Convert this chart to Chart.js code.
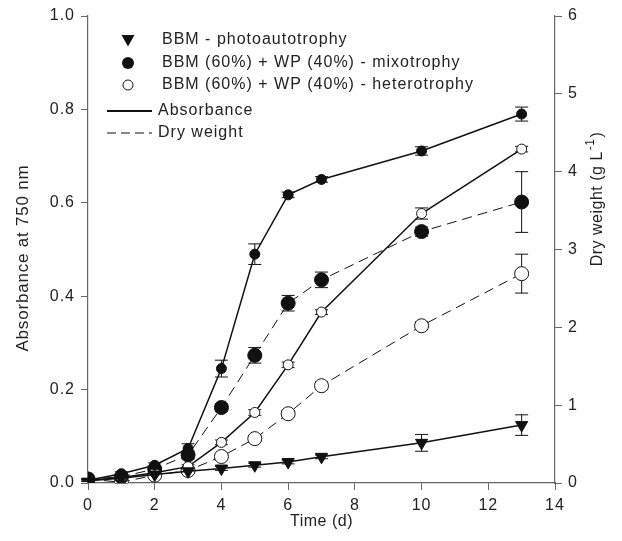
<!DOCTYPE html>
<html>
<head>
<meta charset="utf-8">
<script src="https://cdn.jsdelivr.net/npm/chart.js@4.4.1/dist/chart.umd.min.js"></script>
<style>
  html, body { margin: 0; padding: 0; background: #fff; }
  canvas { display: block; }
</style>
</head>
<body>
<canvas id="chart" width="622" height="541"></canvas>
<script>
// time points (d)
const days = [0, 1, 2, 3, 4, 5, 6, 7, 10, 13];

// absorbance at 750 nm
const photoAbs = [0.005, 0.010, 0.018, 0.025, 0.031, 0.038, 0.045, 0.056, 0.086, 0.124];
const photoAbsErr = [0.002, 0.002, 0.003, 0.003, 0.004, 0.004, 0.004, 0.004, 0.018, 0.022];
const mixoAbs = [0.006, 0.020, 0.038, 0.074, 0.245, 0.490, 0.617, 0.650, 0.711, 0.790];
const mixoAbsErr = [0.002, 0.004, 0.005, 0.010, 0.018, 0.022, 0.006, 0.006, 0.009, 0.015];
const heteroAbs = [0.006, 0.012, 0.022, 0.035, 0.087, 0.151, 0.253, 0.366, 0.577, 0.715];
const heteroAbsErr = [0.002, 0.002, 0.003, 0.004, 0.005, 0.006, 0.006, 0.005, 0.012, 0.006];

// dry weight (g/L)
const mixoDW = [0.05, 0.08, 0.18, 0.36, 0.97, 1.64, 2.31, 2.61, 3.23, 3.61];
const mixoDWErr = [0.01, 0.02, 0.03, 0.05, 0.05, 0.10, 0.10, 0.10, 0.06, 0.39];
const heteroDW = [0.05, 0.01, 0.10, 0.16, 0.34, 0.57, 0.89, 1.25, 2.02, 2.69];
const heteroDWErr = [0.01, 0.01, 0.02, 0.03, 0.03, 0.04, 0.04, 0.05, 0.05, 0.25];

const seriesNames = [
  "BBM - photoautotrophy",
  "BBM (60%) + WP (40%) - mixotrophy",
  "BBM (60%) + WP (40%) - heterotrophy"
];

const FONT = "'Liberation Sans', Arial, sans-serif";
const INK = "#222";
const AXIS = "#666";

const pts = (ys) => days.map((d, i) => ({ x: d, y: ys[i] }));

function series(label, ys, errs, axis, opts) {
  return Object.assign({
    label: label,
    data: pts(ys),
    errors: errs,
    yAxisID: axis,
    borderColor: "#111",
    pointBorderColor: "#111",
    pointBorderWidth: 1,
    tension: 0,
    fill: false
  }, opts);
}

// wider letter spacing, like the original typesetting
const spacing = {
  id: "spacing",
  beforeDraw(chart) { chart.ctx.letterSpacing = "1px"; }
};

const errorBars = {
  id: "errorBars",
  beforeDatasetsDraw(chart) {
    const ctx = chart.ctx;
    ctx.save();
    ctx.strokeStyle = "#111";
    ctx.lineWidth = 1;
    chart.data.datasets.forEach((ds, i) => {
      const meta = chart.getDatasetMeta(i);
      const scale = chart.scales[ds.yAxisID];
      meta.data.forEach((p, j) => {
        const v = ds.data[j].y, e = ds.errors[j];
        const top = scale.getPixelForValue(v + e);
        const bot = scale.getPixelForValue(v - e);
        ctx.beginPath();
        ctx.moveTo(p.x, top); ctx.lineTo(p.x, bot);
        ctx.moveTo(p.x - 6.5, top); ctx.lineTo(p.x + 6.5, top);
        ctx.moveTo(p.x - 6.5, bot); ctx.lineTo(p.x + 6.5, bot);
        ctx.stroke();
      });
    });
    ctx.restore();
  }
};

const decorations = {
  id: "decorations",
  afterDraw(chart) {
    const ctx = chart.ctx;
    const area = chart.chartArea;
    ctx.save();
    ctx.fillStyle = INK;
    ctx.strokeStyle = "#111";

    // legend
    ctx.letterSpacing = "1px";
    ctx.font = "16px " + FONT;
    ctx.textBaseline = "middle";
    ctx.textAlign = "left";
    const lx = 128, tx = 162;
    const rows = [40, 63, 85];
    ctx.beginPath();
    ctx.moveTo(lx - 6.5, rows[0] - 5);
    ctx.lineTo(lx + 6.5, rows[0] - 5);
    ctx.lineTo(lx, rows[0] + 6.5);
    ctx.closePath();
    ctx.fillStyle = "#111";
    ctx.fill();
    ctx.beginPath();
    ctx.arc(lx, rows[1], 6, 0, Math.PI * 2);
    ctx.fill();
    ctx.beginPath();
    ctx.arc(lx, rows[2], 5, 0, Math.PI * 2);
    ctx.lineWidth = 1;
    ctx.stroke();
    ctx.fillStyle = INK;
    seriesNames.forEach((n, i) => ctx.fillText(n, tx, rows[i]));

    ctx.lineWidth = 2;
    ctx.beginPath();
    ctx.moveTo(107, 111); ctx.lineTo(152, 111);
    ctx.stroke();
    ctx.lineWidth = 1;
    ctx.setLineDash([9, 5]);
    ctx.beginPath();
    ctx.moveTo(107, 133); ctx.lineTo(152, 133);
    ctx.stroke();
    ctx.setLineDash([]);
    ctx.fillText("Absorbance", 158, 111);
    ctx.fillText("Dry weight", 158, 133);

    // axis titles
    ctx.letterSpacing = "0.5px";
    ctx.font = "16px " + FONT;
    ctx.textAlign = "center";
    ctx.fillText("Time (d)", (area.left + area.right) / 2, 522);

    ctx.save();
    ctx.translate(23, 258);
    ctx.rotate(-Math.PI / 2);
    ctx.letterSpacing = "0.8px";
    ctx.font = "17px " + FONT;
    ctx.fillText("Absorbance at 750 nm", 0, 0);
    ctx.restore();

    ctx.save();
    ctx.translate(598, 200);
    ctx.rotate(-Math.PI / 2);
    const main = "Dry weight (g L", sup = "-1", tail = ")";
    ctx.font = "16px " + FONT;
    const w1 = ctx.measureText(main).width;
    const w3 = ctx.measureText(tail).width;
    ctx.font = "12px " + FONT;
    const w2 = ctx.measureText(sup).width;
    const x = -(w1 + w2 + w3) / 2;
    ctx.textAlign = "left";
    ctx.font = "16px " + FONT;
    ctx.fillText(main, x, 0);
    ctx.font = "12px " + FONT;
    ctx.fillText(sup, x + w1 + 1, -7);
    ctx.font = "16px " + FONT;
    ctx.fillText(tail, x + w1 + w2 + 2, 0);
    ctx.restore();

    ctx.restore();
  }
};

const axisCommon = {
  grid: { drawOnChartArea: false, drawTicks: true, tickLength: 7, tickColor: AXIS },
  border: { color: AXIS, width: 1.2 },
  ticks: { color: INK, font: { family: FONT, size: 16 }, padding: 6 }
};

new Chart(document.getElementById("chart"), {
  type: "line",
  data: {
    datasets: [
      series(seriesNames[0], photoAbs, photoAbsErr, "y", {
        backgroundColor: "#111", pointBackgroundColor: "#111",
        pointStyle: "triangle", rotation: 180, pointRadius: 7, borderWidth: 1.5
      }),
      series(seriesNames[1], mixoAbs, mixoAbsErr, "y", {
        backgroundColor: "#111", pointBackgroundColor: "#111",
        pointRadius: 5, borderWidth: 1.5
      }),
      series(seriesNames[2], heteroAbs, heteroAbsErr, "y", {
        backgroundColor: "#fff", pointBackgroundColor: "#fff",
        pointRadius: 5, borderWidth: 1.5
      }),
      series(seriesNames[1], mixoDW, mixoDWErr, "y2", {
        backgroundColor: "#111", pointBackgroundColor: "#111",
        pointRadius: 7, borderWidth: 1, borderDash: [10, 6]
      }),
      series(seriesNames[2], heteroDW, heteroDWErr, "y2", {
        backgroundColor: "#fff", pointBackgroundColor: "#fff",
        pointRadius: 7, borderWidth: 1, borderDash: [10, 6]
      })
    ]
  },
  options: {
    responsive: false,
    animation: false,
    devicePixelRatio: 1,
    layout: { padding: { top: 16, left: 0, right: 0, bottom: 0 } },
    plugins: { legend: { display: false }, tooltip: { enabled: false } },
    scales: {
      x: Object.assign({}, axisCommon, {
        type: "linear", min: 0, max: 14,
        ticks: Object.assign({}, axisCommon.ticks, { stepSize: 2 }),
        afterFit: (s) => { s.height = 58; }
      }),
      y: Object.assign({}, axisCommon, {
        position: "left", min: 0, max: 1,
        ticks: Object.assign({}, axisCommon.ticks, {
          stepSize: 0.2, callback: (v) => v.toFixed(1)
        }),
        afterFit: (s) => { s.width = 88; }
      }),
      y2: Object.assign({}, axisCommon, {
        position: "right", min: 0, max: 6,
        ticks: Object.assign({}, axisCommon.ticks, { stepSize: 1 }),
        afterFit: (s) => { s.width = 67; }
      })
    }
  },
  plugins: [spacing, errorBars, decorations]
});
</script>
</body>
</html>
